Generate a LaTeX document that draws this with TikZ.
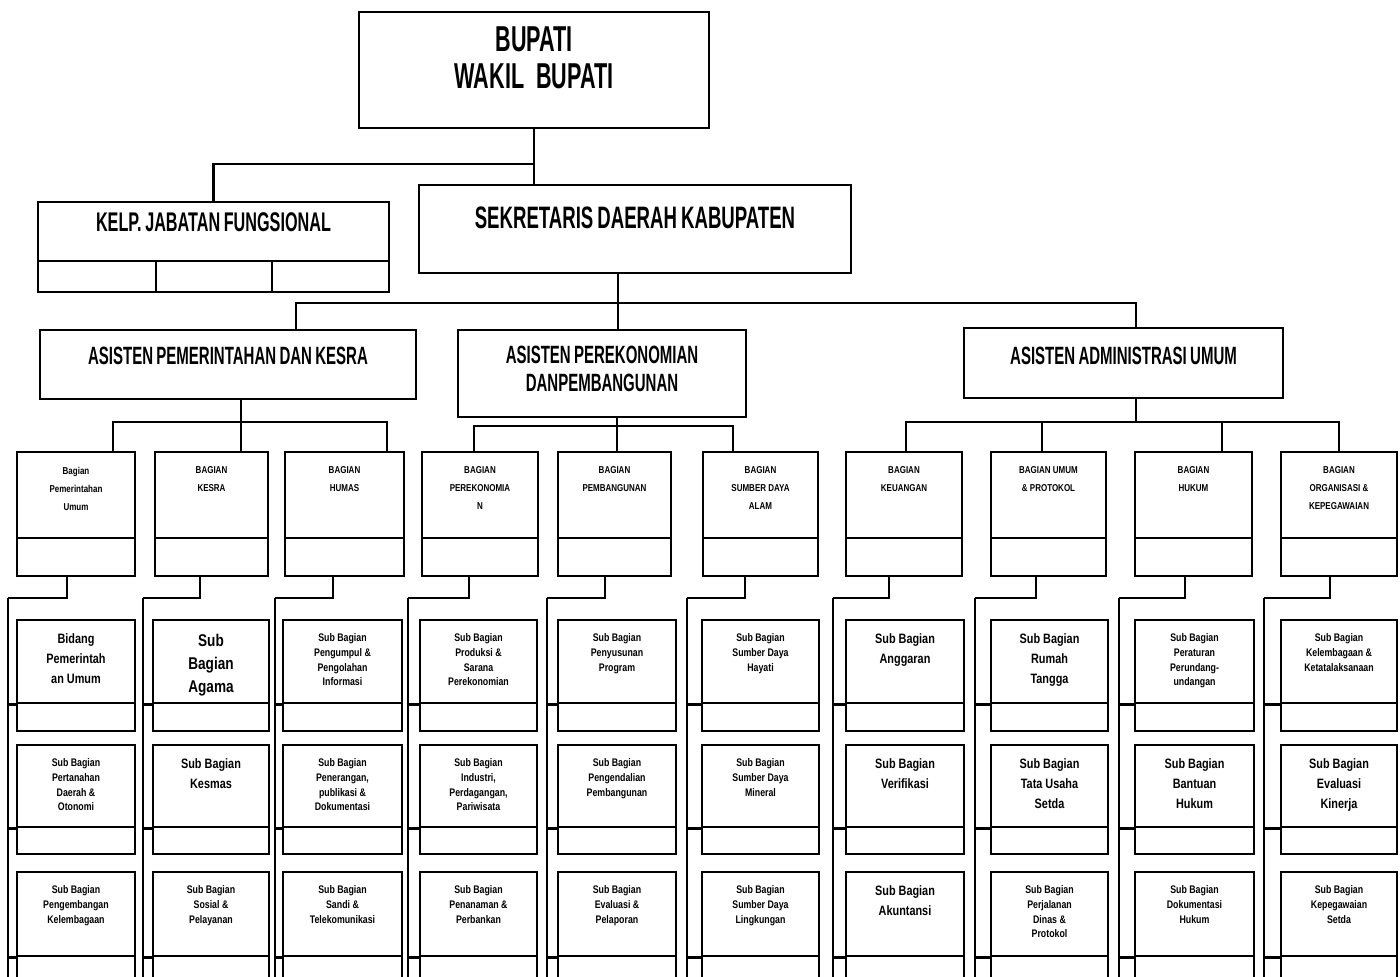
\documentclass[tikz,border=0pt]{standalone}
\usepackage{fontspec}
\newfontfamily\condfont{Liberation Sans}[FakeStretch=0.6,WordSpace=0.8]
\newfontfamily\smallfont{Liberation Sans}[FakeStretch=0.8]
\usetikzlibrary{fit}

% one column of three sub-units hanging from a vertical spine
\newcommand\subcol[4]{%
  \node[box, fit={(#3,620) (#4,703)}] (#1a) {};
  \node[box, fit={(#3,703) (#4,731)}] (#1as) {};
  \node[box, fit={(#3,745) (#4,827)}] (#1b) {};
  \node[box, fit={(#3,827) (#4,854)}] (#1bs) {};
  \node[box, fit={(#3,872) (#4,956)}] (#1c) {};
  \node[box, fit={(#3,956) (#4,995)}] (#1cs) {};
  \coordinate (#1sp) at (#2,598);
  \coordinate (#1end) at (#2,995);
  \draw (#1sp) -- (#1end);
  \draw (#1sp |- #1a.south) -- (#1a.south west);
  \draw (#1sp |- #1b.south) -- (#1b.south west);
  \draw (#1sp |- #1c.south) -- (#1c.south west);
}
% a department box with its lower strip
\newcommand\bagbox[4]{%
  \node[box, fit={(#2,452) (#3,538)}] (#1) {};
  \node[box, fit={(#2,538) (#3,576)}] (#1s) {};
  \node[bagtxt] (#1t) at (#1.north) {#4};
}
% link from a department down to the spine of its sub-units
\newcommand\droplink[3]{%
  \coordinate (#1d) at (#3,598);
  \draw (#1d |- #1s.south) -- (#1d) -- (#2sp);
}

\begin{document}
\begin{tikzpicture}[x=0.5pt, y=-0.5pt, line width=1.3pt,
  box/.style={draw, inner sep=0pt, line width=1.3pt},
  head/.style={font=\condfont\bfseries\fontsize{12.5}{14}\selectfont, align=center, inner sep=0pt, anchor=north},
  bagtxt/.style={font=\smallfont\bfseries\fontsize{5}{9}\selectfont, align=center, inner sep=0pt, anchor=north, yshift=-7.5pt},
  subtxt/.style={font=\smallfont\bfseries\fontsize{5.5}{7.3}\selectfont, align=center, inner sep=0pt, anchor=north, yshift=-7pt},
  big/.style={font=\smallfont\bfseries\fontsize{6.8}{9.8}\selectfont},
  huge/.style={font=\smallfont\bfseries\fontsize{8.5}{11.5}\selectfont},
]
\useasboundingbox (0,0) rectangle (1400,977);
\clip (0,0) rectangle (1400,977);

% ---- top level ----
\node[box, fit={(359,12) (709,128)}, align=center,
      font=\condfont\bfseries\fontsize{18}{18.5}\selectfont] (bup) {BUPATI\\WAKIL BUPATI};

\node[box, fit={(38,202) (389,261)}, font=\condfont\bfseries\fontsize{13.5}{15}\selectfont] (kelp) {KELP. JABATAN FUNGSIONAL};
\node[box, fit={(38,261) (156,292)}] (kelp1) {};
\node[box, fit={(156,261) (272,292)}] (kelp2) {};
\node[box, fit={(272,261) (389,292)}] (kelp3) {};

\node[box, fit={(419,185) (851,273)}] (sekda) {};
\node[head, font=\condfont\bfseries\fontsize{15.5}{17}\selectfont, yshift=-11pt] (sekdat) at (sekda.north) {SEKRETARIS DAERAH KABUPATEN};

\coordinate (j0) at (534,164);
\draw (bup.south) -- (bup.south |- sekda.north);
\draw (j0) -| (kelp.north);

% ---- assistants ----
\node[box, fit={(40,330) (416,399)}] (apem) {};
\node[head, yshift=-8.5pt] (apemt) at (apem.north) {ASISTEN PEMERINTAHAN DAN KESRA};
\node[box, fit={(458,330) (746,417)}] (aper) {};
\node[head, yshift=-8pt] (apert) at (aper.north) {ASISTEN PEREKONOMIAN\\DANPEMBANGUNAN};
\node[box, fit={(964,328) (1283,398)}] (aadm) {};
\node[head, yshift=-9.5pt] (aadmt) at (aadm.north) {ASISTEN ADMINISTRASI UMUM};

\coordinate (t0) at (618,303);
\coordinate (bl) at (296,303);
\coordinate (br) at (1136,303);
\draw (sekda.south -| t0) -- (t0 |- aper.north);
\draw (bl |- apem.north) -- (bl) -- (br) -- (br |- aadm.north);

% ---- departments ----
\bagbox{g1}{17}{135}{Bagian\\Pemerintahan\\Umum}
\bagbox{g2}{155}{268}{BAGIAN\\KESRA}
\bagbox{g3}{285}{404}{BAGIAN\\HUMAS}
\bagbox{g4}{422}{538}{BAGIAN\\PEREKONOMIA\\N}
\bagbox{g5}{558}{671}{BAGIAN\\PEMBANGUNAN}
\bagbox{g6}{703}{818}{BAGIAN\\SUMBER DAYA\\ALAM}
\bagbox{g7}{846}{962}{BAGIAN\\KEUANGAN}
\bagbox{g8}{991}{1106}{BAGIAN UMUM\\\& PROTOKOL}
\bagbox{g9}{1135}{1252}{BAGIAN\\HUKUM}
\bagbox{g10}{1281}{1397}{BAGIAN\\ORGANISASI \&\\KEPEGAWAIAN}

\coordinate (k1) at (113,422);
\coordinate (k2) at (241,422);
\coordinate (k3) at (387,422);
\draw (k1 |- g1.north) -- (k1) -- (k3) -- (k3 |- g3.north);
\draw (apem.south -| k2) -- (k2 |- g2.north);

\coordinate (k4) at (474,426);
\coordinate (k5) at (617,426);
\coordinate (k6) at (733,426);
\draw (k4 |- g4.north) -- (k4) -- (k6) -- (k6 |- g6.north);
\draw (aper.south -| k5) -- (k5 |- g5.north);

\coordinate (k7) at (906,422);
\coordinate (k8) at (1042,422);
\coordinate (k9) at (1222,422);
\coordinate (k10) at (1339,422);
\coordinate (ka) at (1136,422);
\draw (k7 |- g7.north) -- (k7) -- (k10) -- (k10 |- g10.north);
\draw (k8) -- (k8 |- g8.north);
\draw (k9) -- (k9 |- g9.north);
\draw (aadm.south -| ka) -- (ka);

% ---- sub-units ----
\subcol{c1}{8}{17}{135}
\subcol{c2}{143}{153}{269}
\subcol{c3}{275}{283}{402}
\subcol{c4}{408}{420}{537}
\subcol{c5}{547}{558}{676}
\subcol{c6}{687}{702}{819}
\subcol{c7}{833}{846}{964}
\subcol{c8}{975}{991}{1108}
\subcol{c9}{1119}{1135}{1254}
\subcol{c10}{1264}{1281}{1397}

\droplink{g1}{c1}{67}
\droplink{g2}{c2}{200}
\droplink{g3}{c3}{333}
\droplink{g4}{c4}{469}
\droplink{g5}{c5}{605}
\droplink{g6}{c6}{745}
\droplink{g7}{c7}{889}
\droplink{g8}{c8}{1036}
\droplink{g9}{c9}{1185}
\droplink{g10}{c10}{1330}

% ---- sub-unit names ----
\node[subtxt, big] (c1at) at (c1a.north) {Bidang\\Pemerintah\\an Umum};
\node[subtxt] (c1bt) at (c1b.north) {Sub Bagian\\Pertanahan\\Daerah \&\\Otonomi};
\node[subtxt] (c1ct) at (c1c.north) {Sub Bagian\\Pengembangan\\Kelembagaan};

\node[subtxt, huge] (c2at) at (c2a.north) {Sub\\Bagian\\Agama};
\node[subtxt, big] (c2bt) at (c2b.north) {Sub Bagian\\Kesmas};
\node[subtxt] (c2ct) at (c2c.north) {Sub Bagian\\Sosial \&\\Pelayanan};

\node[subtxt] (c3at) at (c3a.north) {Sub Bagian\\Pengumpul \&\\Pengolahan\\Informasi};
\node[subtxt] (c3bt) at (c3b.north) {Sub Bagian\\Penerangan,\\publikasi \&\\Dokumentasi};
\node[subtxt] (c3ct) at (c3c.north) {Sub Bagian\\Sandi \&\\Telekomunikasi};

\node[subtxt] (c4at) at (c4a.north) {Sub Bagian\\Produksi \&\\Sarana\\Perekonomian};
\node[subtxt] (c4bt) at (c4b.north) {Sub Bagian\\Industri,\\Perdagangan,\\Pariwisata};
\node[subtxt] (c4ct) at (c4c.north) {Sub Bagian\\Penanaman \&\\Perbankan};

\node[subtxt] (c5at) at (c5a.north) {Sub Bagian\\Penyusunan\\Program};
\node[subtxt] (c5bt) at (c5b.north) {Sub Bagian\\Pengendalian\\Pembangunan};
\node[subtxt] (c5ct) at (c5c.north) {Sub Bagian\\Evaluasi \&\\Pelaporan};

\node[subtxt] (c6at) at (c6a.north) {Sub Bagian\\Sumber Daya\\Hayati};
\node[subtxt] (c6bt) at (c6b.north) {Sub Bagian\\Sumber Daya\\Mineral};
\node[subtxt] (c6ct) at (c6c.north) {Sub Bagian\\Sumber Daya\\Lingkungan};

\node[subtxt, big] (c7at) at (c7a.north) {Sub Bagian\\Anggaran};
\node[subtxt, big] (c7bt) at (c7b.north) {Sub Bagian\\Verifikasi};
\node[subtxt, big] (c7ct) at (c7c.north) {Sub Bagian\\Akuntansi};

\node[subtxt, big] (c8at) at (c8a.north) {Sub Bagian\\Rumah\\Tangga};
\node[subtxt, big] (c8bt) at (c8b.north) {Sub Bagian\\Tata Usaha\\Setda};
\node[subtxt] (c8ct) at (c8c.north) {Sub Bagian\\Perjalanan\\Dinas \&\\Protokol};

\node[subtxt] (c9at) at (c9a.north) {Sub Bagian\\Peraturan\\Perundang-\\undangan};
\node[subtxt, big] (c9bt) at (c9b.north) {Sub Bagian\\Bantuan\\Hukum};
\node[subtxt] (c9ct) at (c9c.north) {Sub Bagian\\Dokumentasi\\Hukum};

\node[subtxt] (c10at) at (c10a.north) {Sub Bagian\\Kelembagaan \&\\Ketatalaksanaan};
\node[subtxt, big] (c10bt) at (c10b.north) {Sub Bagian\\Evaluasi\\Kinerja};
\node[subtxt] (c10ct) at (c10c.north) {Sub Bagian\\Kepegawaian\\Setda};
\end{tikzpicture}
\end{document}
